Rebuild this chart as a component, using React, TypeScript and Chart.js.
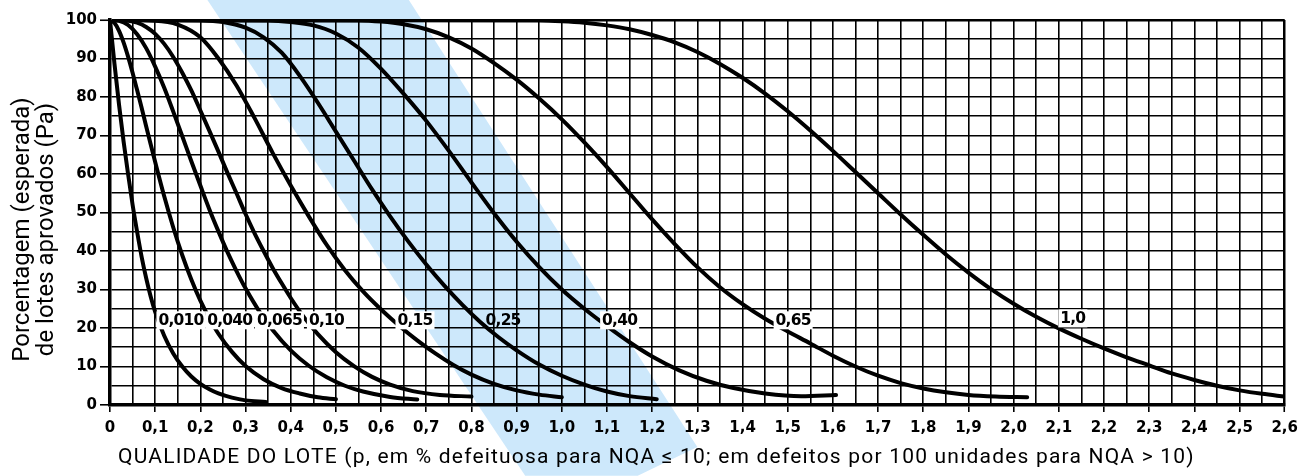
import React, { useEffect, useRef } from 'react';
import { Chart, registerables } from 'chart.js';

Chart.register(...registerables);

// ---------- tick labels ----------
const xTickLabels = ['0', '0,1', '0,2', '0,3', '0,4', '0,5', '0,6', '0,7', '0,8', '0,9', '1,0', '1,1', '1,2', '1,3', '1,4', '1,5', '1,6', '1,7', '1,8', '1,9', '2,0', '2,1', '2,2', '2,3', '2,4', '2,5', '2,6'];
const yTickLabels = ['0', '10', '20', '30', '40', '50', '60', '70', '80', '90', '100'];

// ---------- titles ----------
const yTitleLines = ['Porcentagem (esperada)', 'de lotes aprovados (Pa)'];
const xTitle = 'QUALIDADE DO LOTE (p, em % defeituosa para NQA ≤ 10; em defeitos por 100 unidades para NQA > 10)';

// ---------- OC curves (p in %, Pa in %) ----------
const p010 = [0, 0.01, 0.02, 0.03, 0.04, 0.05, 0.06, 0.07, 0.08, 0.09, 0.10, 0.12, 0.14, 0.16, 0.18, 0.20, 0.22, 0.24, 0.27, 0.30, 0.345];
const pa010 = [100, 88.5, 78, 68.5, 60, 52, 45, 38.5, 33, 28.2, 24.2, 18, 13.4, 10, 7.4, 5.5, 4.1, 3.0, 1.9, 1.2, 0.8];

const p040 = [0, 0.01, 0.02, 0.03, 0.04, 0.05, 0.06, 0.07, 0.08, 0.09, 0.10, 0.12, 0.14, 0.16, 0.18, 0.20, 0.22, 0.24, 0.27, 0.30, 0.34, 0.38, 0.42, 0.46, 0.50];
const pa040 = [100, 99.2, 97.2, 94.2, 90.5, 86.3, 81.8, 77.2, 72.4, 67.7, 63.1, 54.2, 46.1, 38.9, 32.6, 27.1, 22.5, 18.5, 13.8, 10.1, 6.7, 4.4, 3.0, 2.0, 1.5];

const p065 = [0, 0.02, 0.04, 0.06, 0.08, 0.10, 0.12, 0.14, 0.16, 0.18, 0.20, 0.22, 0.24, 0.26, 0.28, 0.30, 0.33, 0.36, 0.40, 0.44, 0.48, 0.52, 0.56, 0.62, 0.68];
const pa065 = [100, 99.8, 98.7, 96.3, 92.7, 87.9, 82.4, 76.2, 69.8, 63.3, 57.0, 50.8, 45.1, 39.7, 34.8, 30.3, 24.4, 19.5, 14.2, 10.2, 7.2, 5.0, 3.5, 2.1, 1.4];

const p10 = [0, 0.04, 0.06, 0.08, 0.10, 0.12, 0.14, 0.16, 0.18, 0.20, 0.22, 0.24, 0.26, 0.28, 0.30, 0.32, 0.34, 0.36, 0.38, 0.40, 0.43, 0.46, 0.50, 0.54, 0.58, 0.62, 0.67, 0.73, 0.80];
const pa10 = [100, 99.8, 99.3, 98.2, 96.4, 93.8, 90.4, 86.3, 81.7, 76.5, 71.2, 65.8, 60.3, 55.0, 49.6, 44.6, 40.0, 35.6, 31.6, 27.8, 22.7, 18.4, 13.7, 10.1, 7.3, 5.3, 3.6, 2.6, 2.2];

const p15 = [0, 0.10, 0.15, 0.20, 0.24, 0.28, 0.32, 0.36, 0.40, 0.44, 0.48, 0.52, 0.56, 0.60, 0.64, 0.68, 0.72, 0.76, 0.80, 0.85, 0.90, 0.95, 1.00];
const pa15 = [100, 99.8, 98.8, 95.5, 90, 83, 74.5, 65.5, 57, 49, 41.5, 35, 29.5, 24.8, 20.6, 16.8, 13.4, 10.4, 7.9, 5.5, 3.8, 2.7, 2.0];

const p25 = [0, 0.20, 0.25, 0.30, 0.34, 0.38, 0.42, 0.46, 0.50, 0.54, 0.58, 0.62, 0.66, 0.70, 0.74, 0.78, 0.82, 0.86, 0.90, 0.95, 1.00, 1.05, 1.10, 1.15, 1.21];
const pa25 = [100, 99.9, 99.5, 98, 95.5, 91.5, 85.5, 78.5, 71, 63.5, 56, 49, 42.5, 36.5, 31, 26, 21.5, 17.6, 14.2, 10.5, 7.6, 5.3, 3.5, 2.3, 1.5];

const p40 = [0, 0.35, 0.40, 0.45, 0.50, 0.55, 0.60, 0.65, 0.70, 0.75, 0.80, 0.85, 0.90, 0.95, 1.00, 1.05, 1.10, 1.15, 1.20, 1.26, 1.32, 1.38, 1.45, 1.53, 1.607];
const pa40 = [100, 99.9, 99.5, 98.6, 96.5, 92.8, 87.3, 80.8, 73.8, 66, 57.8, 49.8, 42.4, 35.8, 30, 25, 20.5, 16.3, 12.6, 9.0, 6.3, 4.4, 3.0, 2.3, 2.6];

const p65 = [0, 0.55, 0.60, 0.65, 0.70, 0.75, 0.80, 0.85, 0.90, 0.95, 1.00, 1.05, 1.10, 1.15, 1.20, 1.25, 1.30, 1.35, 1.40, 1.45, 1.50, 1.55, 1.60, 1.65, 1.70, 1.75, 1.80, 1.85, 1.90, 1.96, 2.03];
const pa65 = [100, 99.9, 99.6, 98.9, 97.6, 95.5, 92.6, 88.8, 84.5, 79.6, 74.2, 68.2, 61.8, 55, 48.2, 41.8, 35.8, 30.6, 26.2, 22.4, 19.1, 16, 12.8, 10.0, 7.6, 5.7, 4.3, 3.3, 2.6, 2.2, 2.0];

const p100 = [0, 0.95, 1.00, 1.05, 1.10, 1.15, 1.20, 1.25, 1.30, 1.35, 1.40, 1.45, 1.50, 1.55, 1.60, 1.65, 1.70, 1.75, 1.80, 1.85, 1.90, 1.95, 2.00, 2.05, 2.10, 2.15, 2.20, 2.25, 2.30, 2.35, 2.40, 2.45, 2.50, 2.55, 2.60];
const pa100 = [100, 99.9, 99.7, 99.3, 98.6, 97.6, 96.1, 94.2, 91.7, 88.6, 85, 80.9, 76.3, 71.3, 66, 60.5, 55, 49.5, 44.2, 39.1, 34.4, 30.1, 26.3, 22.9, 19.9, 17.2, 14.7, 12.4, 10.3, 8.2, 6.5, 5.0, 3.8, 2.9, 2.2];

const curveNames = ['0,010', '0,040', '0,065', '0,10', '0,15', '0,25', '0,40', '0,65', '1,0'];
const curveP = [p010, p040, p065, p10, p15, p25, p40, p65, p100];
const curvePa = [pa010, pa040, pa065, pa10, pa15, pa25, pa40, pa65, pa100];

// curve label anchors (data coordinates)
const labelP = [0.157, 0.265, 0.375, 0.479, 0.675, 0.870, 1.128, 1.512, 2.131];
const labelPa = [22, 22, 22, 22, 22, 22, 22, 22, 22.5];
const labelBoxed = [true, true, true, true, true, false, true, true, true];

// light blue highlight band (data coordinates, extends beyond the axes)
const bandP = [0.211, 0.657, 1.300, 1.168, 0.919];
const bandPa = [106, 106, -10.9, -18.4, -18.4];

const BAND_COLOR = '#cde8fb';
const TICK_FONT = { family: "'DejaVu Sans', sans-serif", size: 15, weight: 'bold' as const };

const overlayPlugin = {
  id: 'overlay',
  beforeDraw(chart: any) {
    const { ctx, scales } = chart;
    const xs = scales.x, ys = scales.y;
    ctx.save();
    ctx.fillStyle = BAND_COLOR;
    ctx.beginPath();
    bandP.forEach((p, i) => {
      const px = xs.getPixelForValue(p);
      const py = ys.getPixelForValue(bandPa[i]);
      if (i === 0) ctx.moveTo(px, py); else ctx.lineTo(px, py);
    });
    ctx.closePath();
    ctx.fill();
    ctx.restore();
  },
  afterDatasetsDraw(chart: any) {
    const { ctx, scales } = chart;
    const xs = scales.x, ys = scales.y;
    ctx.save();
    ctx.font = "bold 15.5px 'DejaVu Sans', sans-serif";
    (ctx as any).letterSpacing = '-0.8px';
    ctx.textAlign = 'center';
    ctx.textBaseline = 'middle';
    curveNames.forEach((name, i) => {
      const cx = xs.getPixelForValue(labelP[i]);
      const cy = ys.getPixelForValue(labelPa[i]);
      const w = ctx.measureText(name).width;
      if (labelBoxed[i]) {
        ctx.fillStyle = '#fff';
        ctx.fillRect(cx - w / 2 - 2, cy - 9, w + 4, 18);
      }
      ctx.fillStyle = '#000';
      ctx.fillText(name, cx, cy + 1);
    });
    ctx.restore();
  },
  afterDraw(chart: any) {
    const { ctx, chartArea } = chart;
    ctx.save();
    ctx.fillStyle = '#000';
    // y title (two rotated lines)
    ctx.font = "24px Roboto, sans-serif";
    ctx.textAlign = 'center';
    ctx.textBaseline = 'middle';
    const yc = (chartArea.top + chartArea.bottom) / 2 + 17;
    yTitleLines.forEach((line, i) => {
      ctx.save();
      ctx.translate(chartArea.left - 87 + i * 24, yc);
      ctx.rotate(-Math.PI / 2);
      ctx.fillText(line, 0, 0);
      ctx.restore();
    });
    // x title
    ctx.font = "21px Roboto, sans-serif";
    (ctx as any).letterSpacing = '1.2px';
    ctx.textAlign = 'left';
    ctx.fillText(xTitle, chartArea.left + 8, chartArea.bottom + 53);
    ctx.restore();
  },
};

export default function App() {
  const ref = useRef<HTMLCanvasElement>(null);
  useEffect(() => {
    if (!ref.current) return;
    const datasets = curveNames.map((name, k) => ({
      label: name,
      data: curveP[k].map((p, i) => ({ x: p, y: curvePa[k][i] })),
      borderColor: '#000',
      borderWidth: 4,
      pointRadius: 0,
      fill: false,
      cubicInterpolationMode: 'monotone' as const,
      borderCapStyle: 'round' as const,
      borderJoinStyle: 'round' as const,
    }));
    const chart = new Chart(ref.current, {
      type: 'line',
      data: { datasets },
      options: {
        animation: false,
        responsive: true,
        maintainAspectRatio: false,
        events: [],
        layout: { padding: { top: 20, right: 15, bottom: 0, left: 0 } },
        plugins: { legend: { display: false }, tooltip: { enabled: false }, title: { display: false } },
        scales: {
          x: {
            type: 'linear',
            min: 0,
            max: 2.6,
            afterFit: (s: any) => { s.height = 71; },
            ticks: {
              stepSize: 0.05,
              autoSkip: false,
              maxRotation: 0,
              minRotation: 0,
              padding: 7,
              color: '#000',
              font: TICK_FONT,
              callback: (v: any) => {
                const i = Math.round(Number(v) * 20);
                return i % 2 === 0 ? xTickLabels[i / 2] : '';
              },
            },
            grid: {
              color: '#000',
              lineWidth: (c: any) => (c.tick && Math.abs(c.tick.value - 2.6) < 1e-6 ? 2.5 : 1.6),
              tickLength: 7,
              tickWidth: 1.6,
              tickColor: (c: any) => (c.tick && Math.round(c.tick.value * 20) % 2 === 0 ? '#000' : 'rgba(0,0,0,0)'),
            },
            border: { display: true, color: '#000', width: 3.5 },
          },
          y: {
            type: 'linear',
            min: 0,
            max: 100,
            afterFit: (s: any) => { s.width = 110; },
            ticks: {
              stepSize: 5,
              autoSkip: false,
              padding: 3,
              color: '#000',
              font: TICK_FONT,
              callback: (v: any) => {
                const n = Math.round(Number(v));
                return n % 10 === 0 ? yTickLabels[n / 10] : '';
              },
            },
            grid: {
              color: '#000',
              lineWidth: (c: any) => (c.tick && c.tick.value === 100 ? 2.5 : 1.6),
              tickLength: 10,
              tickWidth: 1.6,
              tickColor: (c: any) => (c.tick && Math.round(c.tick.value) % 10 === 0 ? '#000' : 'rgba(0,0,0,0)'),
            },
            border: { display: true, color: '#000', width: 3.5 },
          },
        },
      },
      plugins: [overlayPlugin],
    } as any);
    return () => chart.destroy();
  }, []);
  return (
    <div style={{ position: 'fixed', left: 0, top: 0, width: 1305, height: 476 }}>
      <canvas ref={ref} />
    </div>
  );
}
